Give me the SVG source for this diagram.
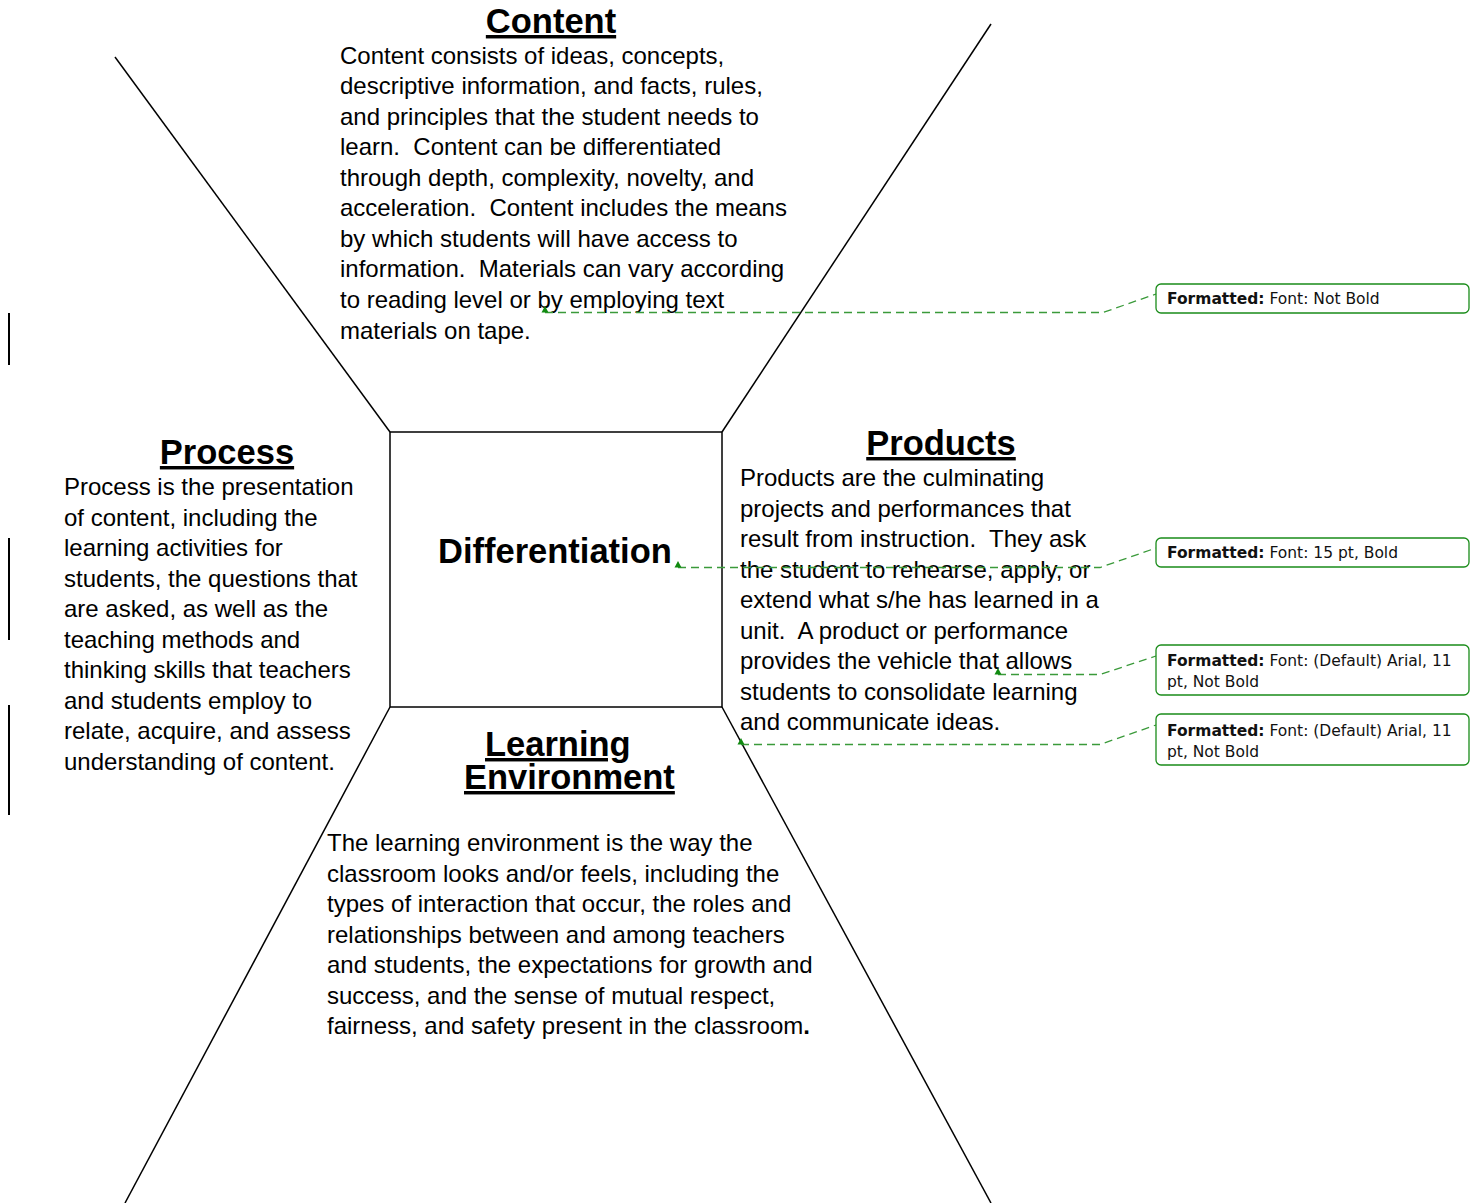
<svg xmlns="http://www.w3.org/2000/svg" width="1470" height="1203" viewBox="0 0 1470 1203">
  <style>
    .frame { stroke: #000; stroke-width: 1.5; fill: none; }
    .body { font-family: "Liberation Sans", Arial, sans-serif; font-size: 24px; fill: #000; }
    .head { font-family: "Liberation Sans", Arial, sans-serif; font-size: 34.5px; font-weight: bold; fill: #000; text-decoration: underline; }
    .center { font-family: "Liberation Sans", Arial, sans-serif; font-size: 34.5px; font-weight: bold; fill: #000; }
    .bar { stroke: #000; stroke-width: 2; }
    .balloon { fill: #fff; stroke: #1a8c1a; stroke-width: 1.3; }
    .note { font-family: "DejaVu Sans", Verdana, sans-serif; font-size: 15.5px; fill: #111; }
    .note .b { font-weight: bold; }
    .lead { stroke: #3a9a3a; stroke-width: 1.3; fill: none; stroke-dasharray: 8 5; }
    .anchor { fill: #108a10; }
  </style>

  <!-- change bars in the left margin -->
  <g id="change-bars">
    <line class="bar" x1="9" y1="313" x2="9" y2="365"/>
    <line class="bar" x1="9" y1="538" x2="9" y2="640"/>
    <line class="bar" x1="9" y1="705" x2="9" y2="815"/>
  </g>

  <!-- central frame and the four diagonal spokes -->
  <g id="frame">
    <line class="frame" x1="115" y1="57" x2="390" y2="432"/>
    <line class="frame" x1="991" y1="24" x2="722" y2="432"/>
    <line class="frame" x1="390" y1="707" x2="125" y2="1203"/>
    <line class="frame" x1="722" y1="707" x2="991" y2="1203"/>
  </g>

  <g id="differentiation">
    <rect class="frame" x="390" y="432" width="332" height="275"/>
    <text class="center" x="438" y="563">Differentiation</text>
  </g>

  <g id="content">
    <text class="head" x="551" y="33" text-anchor="middle">Content</text>
    <text class="body">
      <tspan x="340" y="63.5">Content consists of ideas, concepts,</tspan>
      <tspan x="340" y="94">descriptive information, and facts, rules,</tspan>
      <tspan x="340" y="124.6">and principles that the student needs to</tspan>
      <tspan x="340" y="155.2">learn.&#160; Content can be differentiated</tspan>
      <tspan x="340" y="185.7">through depth, complexity, novelty, and</tspan>
      <tspan x="340" y="216.3">acceleration.&#160; Content includes the means</tspan>
      <tspan x="340" y="246.8">by which students will have access to</tspan>
      <tspan x="340" y="277.4">information.&#160; Materials can vary according</tspan>
      <tspan x="340" y="307.9">to reading level or by employing text</tspan>
      <tspan x="340" y="338.5">materials on tape.</tspan>
    </text>
  </g>

  <g id="process">
    <text class="head" x="227" y="464" text-anchor="middle">Process</text>
    <text class="body">
      <tspan x="64" y="495">Process is the presentation</tspan>
      <tspan x="64" y="525.5">of content, including the</tspan>
      <tspan x="64" y="556">learning activities for</tspan>
      <tspan x="64" y="586.5">students, the questions that</tspan>
      <tspan x="64" y="617">are asked, as well as the</tspan>
      <tspan x="64" y="647.5">teaching methods and</tspan>
      <tspan x="64" y="678">thinking skills that teachers</tspan>
      <tspan x="64" y="708.5">and students employ to</tspan>
      <tspan x="64" y="739">relate, acquire, and assess</tspan>
      <tspan x="64" y="769.5">understanding of content.</tspan>
    </text>
  </g>

  <g id="products">
    <text class="head" x="941" y="455" text-anchor="middle">Products</text>
    <text class="body">
      <tspan x="740" y="486">Products are the culminating</tspan>
      <tspan x="740" y="516.5">projects and performances that</tspan>
      <tspan x="740" y="547">result from instruction.&#160; They ask</tspan>
      <tspan x="740" y="577.5">the student to rehearse, apply, or</tspan>
      <tspan x="740" y="608">extend what s/he has learned in a</tspan>
      <tspan x="740" y="638.5">unit.&#160; A product or performance</tspan>
      <tspan x="740" y="669">provides the vehicle that allows</tspan>
      <tspan x="740" y="699.5">students to consolidate learning</tspan>
      <tspan x="740" y="730">and communicate ideas.</tspan>
    </text>
  </g>

  <g id="learning-environment">
    <text class="head" x="485" y="756">Learning</text>
    <text class="head" x="464" y="789">Environment</text>
    <text class="body">
      <tspan x="327" y="851">The learning environment is the way the</tspan>
      <tspan x="327" y="881.5">classroom looks and/or feels, including the</tspan>
      <tspan x="327" y="912">types of interaction that occur, the roles and</tspan>
      <tspan x="327" y="942.5">relationships between and among teachers</tspan>
      <tspan x="327" y="973">and students, the expectations for growth and</tspan>
      <tspan x="327" y="1003.5">success, and the sense of mutual respect,</tspan>
      <tspan x="327" y="1034">fairness, and safety present in the classroom<tspan font-weight="bold">.</tspan></tspan>
    </text>
  </g>

  <!-- dashed leaders from the text anchors to the format notes -->
  <g id="connectors">
    <polyline class="lead" points="545,312.5 1103,312.5 1156,294"/>
    <polygon class="anchor" points="545,306 541.5,312.5 548.5,312.5"/>
    <polyline class="lead" points="678,567.5 1100,567.5 1156,548"/>
    <polygon class="anchor" points="678,561 674.5,567.5 681.5,567.5"/>
    <polyline class="lead" points="998,674.5 1100,674.5 1156,656"/>
    <polygon class="anchor" points="998,668 994.5,674.5 1001.5,674.5"/>
    <polyline class="lead" points="741,744.5 1100,744.5 1156,725"/>
    <polygon class="anchor" points="741,738 737.5,744.5 744.5,744.5"/>
  </g>

  <g id="note-1">
    <rect class="balloon" x="1156" y="284" width="313" height="29" rx="5"/>
    <text class="note" x="1167" y="304"><tspan class="b">Formatted:</tspan> Font: Not Bold</text>
  </g>
  <g id="note-2">
    <rect class="balloon" x="1156" y="538" width="313" height="29" rx="5"/>
    <text class="note" x="1167" y="558"><tspan class="b">Formatted:</tspan> Font: 15 pt, Bold</text>
  </g>
  <g id="note-3">
    <rect class="balloon" x="1156" y="645" width="313" height="50" rx="5"/>
    <text class="note" x="1167" y="666"><tspan class="b">Formatted:</tspan> Font: (Default) Arial, 11</text>
    <text class="note" x="1167" y="687">pt, Not Bold</text>
  </g>
  <g id="note-4">
    <rect class="balloon" x="1156" y="714" width="313" height="51" rx="5"/>
    <text class="note" x="1167" y="736"><tspan class="b">Formatted:</tspan> Font: (Default) Arial, 11</text>
    <text class="note" x="1167" y="757">pt, Not Bold</text>
  </g>
</svg>
